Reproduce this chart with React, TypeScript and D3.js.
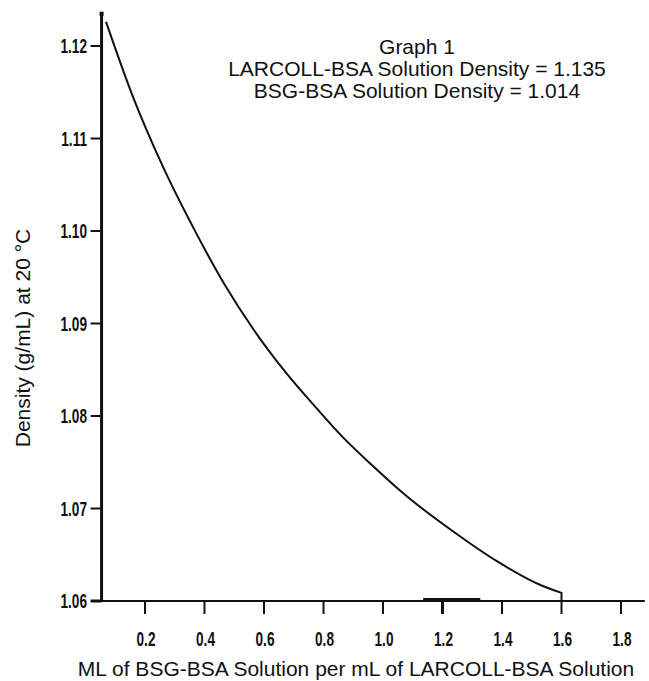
import React, { useEffect, useRef } from 'react';
import * as d3 from 'd3';

// values
const mlBsg = [0.069, 0.156, 0.261, 0.365, 0.466, 0.566, 0.671, 0.775, 0.859, 0.976, 1.077, 1.228, 1.383, 1.531, 1.598];
const density = [1.1226, 1.1148, 1.1069, 1.1002, 1.0943, 1.0893, 1.0848, 1.0809, 1.0779, 1.0743, 1.0714, 1.0677, 1.0643, 1.0617, 1.0609];

const xTicks = [0.2, 0.4, 0.6, 0.8, 1.0, 1.2, 1.4, 1.6, 1.8];
const yTicks = [1.06, 1.07, 1.08, 1.09, 1.10, 1.11, 1.12];

const noteLines = [
  'Graph 1',
  'LARCOLL-BSA Solution Density = 1.135',
  'BSG-BSA Solution Density = 1.014',
];

// thick smudge sitting on the x axis in the scan
const axisSmudge = [1.135, 1.327];

const App = () => {
  const width = 649;
  const height = 681;
  const svgRef = useRef<SVGSVGElement>(null);

  useEffect(() => {
    const x = d3.scaleLinear().domain([0, 1.8]).range([85.5, 621]);
    const y = d3.scaleLinear().domain([1.06, 1.12]).range([601, 46]);
    const xMin = 0.054;
    const xMax = 1.88;
    const yMax = 1.1236;

    const svg = d3.select(svgRef.current);
    svg.selectAll('*').remove();

    const tickFont = '"Liberation Sans", Arial, Helvetica, sans-serif';
    const textFont = '"Liberation Sans", Arial, Helvetica, sans-serif';
    const squeeze = 0.68; // scan tick labels are a tall condensed bold face

    // axes
    svg.append('line')
      .attr('x1', x(xMin)).attr('x2', x(xMin))
      .attr('y1', y(yMax)).attr('y2', y(1.06) + 1)
      .attr('stroke', '#111').attr('stroke-width', 3);
    svg.append('rect')
      .attr('x', x(xMin) - 2).attr('y', y(yMax) - 1)
      .attr('width', 4).attr('height', 4)
      .attr('fill', '#111');
    svg.append('line')
      .attr('x1', x(xMin) - 1).attr('x2', x(xMax))
      .attr('y1', y(1.06)).attr('y2', y(1.06))
      .attr('stroke', '#111').attr('stroke-width', 2);

    svg.append('line')
      .attr('x1', x(axisSmudge[0])).attr('x2', x(axisSmudge[1]))
      .attr('y1', y(1.06) - 1.5).attr('y2', y(1.06) - 1.5)
      .attr('stroke', '#111').attr('stroke-width', 3);

    // y ticks + labels
    const yg = svg.append('g');
    yg.selectAll('line')
      .data(yTicks)
      .join('line')
      .attr('x1', x(xMin) - 11).attr('x2', x(xMin))
      .attr('y1', d => y(d)).attr('y2', d => y(d))
      .attr('stroke', '#111')
      .attr('stroke-width', d => (d === 1.06 ? 3 : 2));
    yg.selectAll('text')
      .data(yTicks)
      .join('text')
      .attr('transform', d => `translate(87, ${y(d) + 7}) scale(${squeeze}, 1)`)
      .attr('text-anchor', 'end')
      .attr('font-family', tickFont)
      .attr('font-weight', 'bold')
      .attr('font-size', 20)
      .attr('fill', '#111')
      .text(d => d.toFixed(2));

    // x ticks + labels
    const xg = svg.append('g');
    xg.selectAll('line')
      .data(xTicks)
      .join('line')
      .attr('x1', d => x(d)).attr('x2', d => x(d))
      .attr('y1', d => (d === 1.6 ? y(1.06) - 9 : y(1.06)))
      .attr('y2', y(1.06) + 13)
      .attr('stroke', '#111')
      .attr('stroke-width', d => (d === 1.2 ? 3 : 2));
    xg.selectAll('text')
      .data(xTicks)
      .join('text')
      .attr('transform', d => `translate(${x(d) + 1}, 646) scale(${squeeze}, 1)`)
      .attr('text-anchor', 'middle')
      .attr('font-family', tickFont)
      .attr('font-weight', 'bold')
      .attr('font-size', 20)
      .attr('fill', '#111')
      .text(d => d.toFixed(1));

    // the curve
    const pts = mlBsg.map((v, i) => [v, density[i]] as [number, number]);
    const line = d3.line<[number, number]>()
      .x(d => x(d[0]))
      .y(d => y(d[1]))
      .curve(d3.curveMonotoneX);
    svg.append('path')
      .attr('d', line(pts))
      .attr('fill', 'none')
      .attr('stroke', '#111')
      .attr('stroke-width', 2);

    // note block
    svg.append('g')
      .selectAll('text')
      .data(noteLines)
      .join('text')
      .attr('x', 417)
      .attr('y', (d, i) => 54 + i * 22)
      .attr('text-anchor', 'middle')
      .attr('font-family', textFont)
      .attr('font-size', 21)
      .attr('fill', '#111')
      .text(d => d);

    // axis titles
    svg.append('text')
      .attr('x', 356)
      .attr('y', 676)
      .attr('text-anchor', 'middle')
      .attr('font-family', textFont)
      .attr('font-size', 21)
      .attr('fill', '#111')
      .text('ML of BSG-BSA Solution per mL of LARCOLL-BSA Solution');

    svg.append('text')
      .attr('transform', 'translate(30, 338) rotate(-90)')
      .attr('text-anchor', 'middle')
      .attr('font-family', textFont)
      .attr('font-size', 21)
      .attr('fill', '#111')
      .text('Density (g/mL) at 20 °C');
  }, []);

  return (
    <div style={{ position: 'absolute', left: 0, top: 0, width, height, background: '#fff' }}>
      <svg ref={svgRef} width={width} height={height} style={{ display: 'block' }}></svg>
    </div>
  );
};

export default App;
